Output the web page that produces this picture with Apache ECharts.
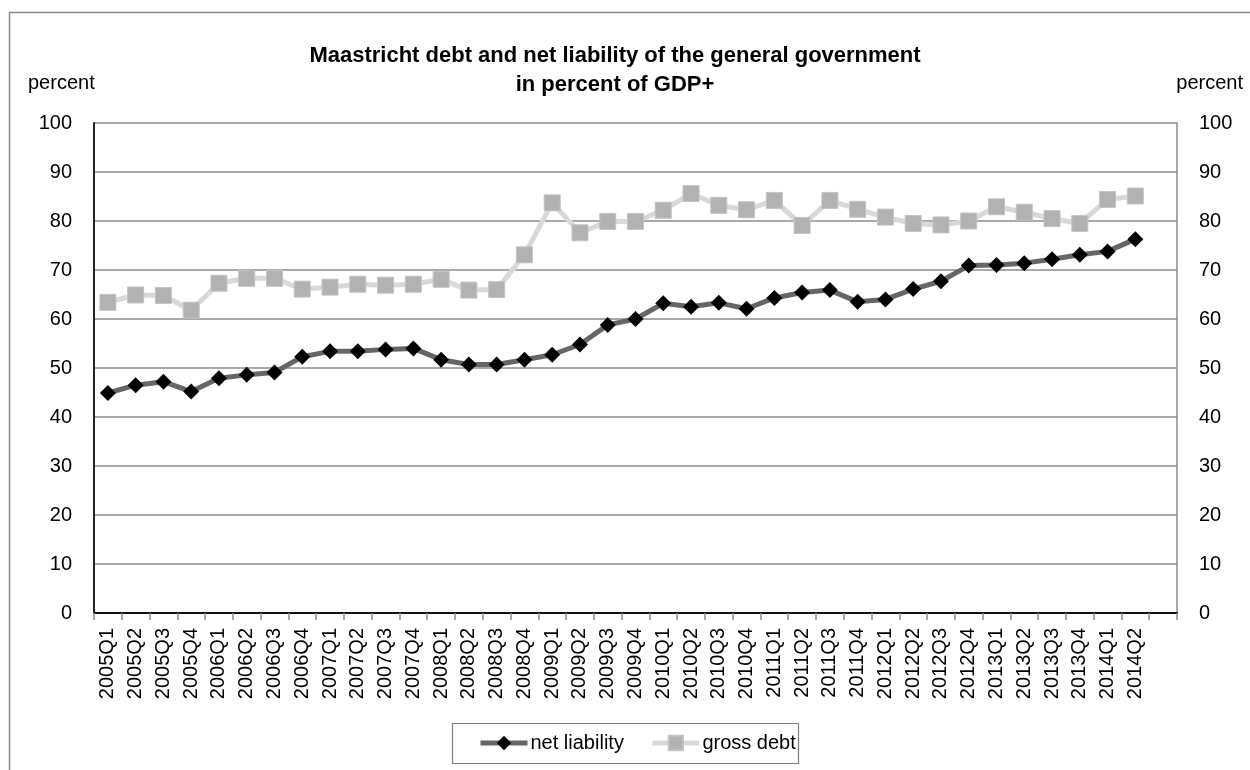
<!DOCTYPE html>
<html>
<head>
<meta charset="utf-8">
<script src="https://cdn.jsdelivr.net/npm/echarts@6/dist/echarts.min.js"></script>
<style>
html,body{margin:0;padding:0;background:#fff;}
#chart{width:1250px;height:770px;}
</style>
</head>
<body>
<div id="chart"></div>
<script>
var categories = ['2005Q1','2005Q2','2005Q3','2005Q4','2006Q1','2006Q2','2006Q3','2006Q4',
  '2007Q1','2007Q2','2007Q3','2007Q4','2008Q1','2008Q2','2008Q3','2008Q4',
  '2009Q1','2009Q2','2009Q3','2009Q4','2010Q1','2010Q2','2010Q3','2010Q4',
  '2011Q1','2011Q2','2011Q3','2011Q4','2012Q1','2012Q2','2012Q3','2012Q4',
  '2013Q1','2013Q2','2013Q3','2013Q4','2014Q1','2014Q2',''];
var netLiability = [44.9,46.5,47.2,45.2,47.9,48.6,49.1,52.3,53.4,53.4,53.8,54.0,
  51.7,50.7,50.7,51.7,52.7,54.8,58.8,60.0,63.2,62.5,63.3,62.1,64.3,65.4,65.9,63.5,
  64.0,66.1,67.7,70.9,71.0,71.4,72.2,73.1,73.8,76.3];
var grossDebt = [63.4,64.9,64.8,61.8,67.3,68.3,68.3,66.1,66.5,67.1,66.9,67.1,
  68.1,65.9,66.0,73.1,83.7,77.6,79.9,79.9,82.2,85.6,83.2,82.3,84.2,79.1,84.2,82.4,
  80.8,79.5,79.2,80.0,82.9,81.8,80.5,79.5,84.4,85.1];
var seriesNames = ['net liability','gross debt'];
var titleText = 'Maastricht debt and net liability of the general government\nin percent of GDP+';
var axisName = 'percent';

var FONT = 'Liberation Sans';
var chart = echarts.init(document.getElementById('chart'), null, {renderer:'canvas'});
chart.setOption({
  animation: false,
  backgroundColor: '#fff',
  graphic: [
    {type:'rect', shape:{x:9.5,y:12.5,width:1260,height:790}, style:{fill:'none',stroke:'#8c8c8c',lineWidth:1.5}, silent:true, z:-10},
    {type:'rect', shape:{x:452.5,y:723.5,width:346,height:40}, style:{fill:'none',stroke:'#7f7f7f',lineWidth:1.2}, silent:true}
  ],
  title: [
    {text: titleText, left: 610, top: 36, textAlign:'center',
     textStyle:{fontFamily:FONT, fontWeight:'bold', fontSize:22, lineHeight:29, color:'#000', align:'center'}},
    {text: axisName, left: 28, top: 72, padding:0,
     textStyle:{fontFamily:FONT, fontWeight:'normal', fontSize:20, lineHeight:22, color:'#000'}},
    {text: axisName, right: 7, top: 72, padding:0,
     textStyle:{fontFamily:FONT, fontWeight:'normal', fontSize:20, lineHeight:22, color:'#000'}}
  ],
  legend: {
    data: [
      {name: seriesNames[0], lineStyle:{width:5, color:'#666'}, itemStyle:{color:'#000'}},
      {name: seriesNames[1], lineStyle:{width:5, color:'#d9d9d9'}, itemStyle:{color:'#b2b2b2'}}
    ],
    left: 478, top: 733, padding: 0,
    itemWidth: 47, itemHeight: 18, itemGap: 26,
    textStyle:{fontFamily:FONT, fontSize:20, color:'#000', padding:[0,0,0,-2]}
  },
  grid: {left:94, right:73, top:123, bottom:157, containLabel:false},
  xAxis: [
    {type:'category', data: categories, boundaryGap:true, position:'bottom',
     axisLine:{show:true, lineStyle:{color:'#8c8c8c', width:1.5}},
     axisTick:{show:true, length:7, alignWithLabel:false, interval:0, lineStyle:{color:'#8c8c8c', width:1.5}},
     axisLabel:{interval:0, rotate:90, margin:15, fontFamily:FONT, fontSize:20, color:'#000'},
     splitLine:{show:false}},
    {type:'category', data: categories, boundaryGap:true, position:'top',
     axisLine:{show:true, lineStyle:{color:'#111', width:2}},
     axisTick:{show:false}, axisLabel:{show:false}, splitLine:{show:false}}
  ],
  yAxis: [
    {type:'value', min:0, max:100, interval:10, position:'left',
     axisLine:{show:true, lineStyle:{color:'#222', width:2}},
     axisTick:{show:false},
     axisLabel:{margin:22, fontFamily:FONT, fontSize:20, color:'#000'},
     splitLine:{show:true, lineStyle:{color:'#8c8c8c', width:1.5}}},
    {type:'value', min:0, max:100, interval:10, position:'right',
     axisLine:{show:true, lineStyle:{color:'#8c8c8c', width:1.5}},
     axisTick:{show:false},
     axisLabel:{margin:22, fontFamily:FONT, fontSize:20, color:'#000'},
     splitLine:{show:false}}
  ],
  series: [
    {name: seriesNames[0], type:'line', data: netLiability, xAxisIndex:0, yAxisIndex:0,
     symbol:'diamond', symbolSize:16, showAllSymbol:true,
     itemStyle:{color:'#000'}, lineStyle:{color:'#666', width:5}, z:3},
    {name: seriesNames[1], type:'line', data: grossDebt, xAxisIndex:0, yAxisIndex:0,
     symbol:'rect', symbolSize:16, showAllSymbol:true,
     itemStyle:{color:'#b2b2b2', borderColor:'#c4c4c4', borderWidth:1}, lineStyle:{color:'#d9d9d9', width:5}, z:2}
  ]
});
</script>
</body>
</html>
